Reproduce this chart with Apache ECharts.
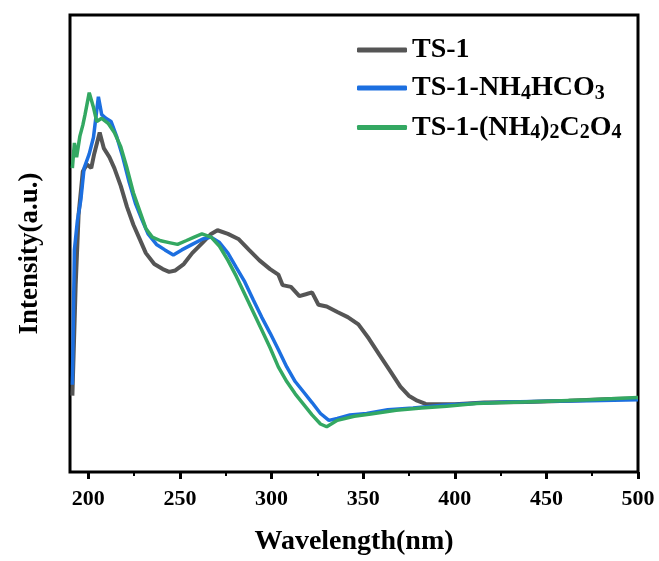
<!DOCTYPE html>
<html>
<head>
<meta charset="utf-8">
<script src="https://cdn.jsdelivr.net/npm/echarts@6/dist/echarts.min.js"></script>
<style>
  html, body { margin: 0; padding: 0; background: #fff; }
  #uvChart { width: 659px; height: 561px; }
</style>
</head>
<body>
<div id="uvChart"></div>
<script>
// wavelength (nm) / intensity (a.u.)
var ts1Wl = [191.3, 193.1, 194.7, 197.0, 199.3, 201.6, 203.2, 206.2, 208.5, 211.5, 214.2, 217.7, 221.1, 224.6, 228.0, 231.4, 236.0, 240.6, 244.1, 247.5, 252.1, 256.7, 262.4, 267.0, 270.5, 276.2, 281.9, 287.7, 293.4, 299.2, 303.7, 306.0, 310.6, 315.2, 318.7, 322.1, 325.6, 330.1, 335.9, 341.6, 347.4, 353.1, 358.8, 364.6, 370.3, 374.9, 379.5, 384.1, 391.0, 400.1, 416.2, 439.2, 462.1, 485.1, 500];
var ts1Int = [16.7, 40.9, 56.4, 65.8, 67.3, 66.5, 69.6, 74.3, 70.8, 68.9, 66.5, 62.6, 58.0, 54.1, 51.0, 47.9, 45.5, 44.4, 43.8, 44.1, 45.5, 47.9, 50.2, 52.1, 52.9, 52.1, 51.0, 48.6, 46.3, 44.4, 43.2, 40.9, 40.5, 38.5, 38.9, 39.3, 36.6, 36.2, 35.0, 33.9, 32.3, 29.2, 25.7, 22.2, 18.7, 16.7, 15.6, 14.9, 14.8, 14.8, 15.2, 15.3, 15.6, 16.0, 16.1];

var nhWl = [191.3, 192.4, 194.0, 195.9, 197.7, 200.5, 202.8, 205.5, 207.3, 209.6, 212.4, 215.4, 218.8, 222.3, 225.7, 229.2, 232.6, 237.2, 241.8, 246.4, 251.0, 256.7, 262.4, 267.0, 271.6, 276.2, 280.8, 285.4, 290.0, 294.6, 299.2, 303.7, 308.3, 312.9, 317.5, 322.1, 326.7, 331.3, 335.9, 342.8, 351.9, 363.4, 377.2, 393.3, 409.3, 427.7, 450.6, 473.6, 500];
var nhInt = [19.1, 48.6, 54.9, 59.5, 66.5, 69.6, 73.2, 82.1, 78.2, 77.4, 76.7, 73.5, 68.9, 63.4, 58.8, 55.3, 52.1, 49.8, 48.6, 47.5, 48.6, 49.8, 51.0, 51.4, 50.2, 47.9, 44.7, 41.6, 37.7, 33.9, 30.4, 26.8, 23.0, 19.8, 17.5, 15.2, 12.8, 11.3, 11.7, 12.5, 12.8, 13.6, 14.0, 14.6, 15.0, 15.3, 15.5, 15.6, 15.8];

var oxWl = [191.3, 192.4, 193.6, 195.4, 197.0, 198.2, 200.5, 202.8, 204.6, 207.3, 210.8, 214.2, 217.7, 221.1, 224.6, 228.0, 231.4, 234.9, 239.5, 244.1, 248.7, 253.3, 257.8, 262.0, 267.0, 271.6, 276.2, 280.8, 285.4, 290.0, 294.6, 299.2, 303.7, 308.3, 312.9, 317.5, 322.1, 326.7, 330.1, 335.9, 345.1, 354.2, 368.0, 381.8, 395.5, 411.6, 427.7, 450.6, 473.6, 500];
var oxInt = [66.5, 72.0, 68.9, 73.5, 75.9, 78.2, 83.0, 79.8, 76.7, 77.4, 76.3, 74.3, 71.2, 66.5, 61.1, 57.2, 53.3, 51.4, 50.6, 50.2, 49.8, 50.6, 51.4, 52.1, 51.4, 49.4, 46.3, 42.8, 38.9, 35.0, 31.1, 27.2, 23.0, 19.8, 17.1, 14.8, 12.5, 10.5, 9.9, 11.3, 12.2, 12.7, 13.5, 14.0, 14.4, 15.0, 15.2, 15.5, 15.8, 16.3];

var majorTicks = [200, 250, 300, 350, 400, 450, 500];
var minorTicks = [225, 275, 325, 375, 425, 475];

var seriesNames = ['TS-1', 'TS-1-NH4HCO3', 'TS-1-(NH4)2C2O4'];
var seriesColors = ['#555555', '#1c6fe0', '#33a862'];

function zip(xs, ys) {
  var out = [];
  for (var i = 0; i < xs.length; i++) out.push([xs[i], ys[i]]);
  return out;
}

var serif = 'Liberation Serif';
var myChart = echarts.init(document.getElementById('uvChart'));

var option = {
  animation: false,
  textStyle: { fontFamily: serif, color: '#000' },
  grid: {
    left: 70, right: 21, top: 15, bottom: 88,
    show: true, borderColor: '#000', borderWidth: 3
  },
  legend: {
    left: 352, top: 31,
    orient: 'vertical',
    itemWidth: 50, itemHeight: 5,
    itemGap: 10,
    icon: 'roundRect',
    data: seriesNames,
    formatter: function (name) {
      if (name === 'TS-1') return '{n|TS-1}';
      if (name === 'TS-1-NH4HCO3') return '{n|TS-1-NH}{s|4}{n|HCO}{s|3}';
      return '{n|TS-1-(NH}{s|4}{n|)}{s|2}{n|C}{s|2}{n|O}{s|4}';
    },
    textStyle: {
      rich: {
        n: { fontFamily: serif, fontWeight: 'bold', fontSize: 28, color: '#000', lineHeight: 31, verticalAlign: 'middle' },
        s: { fontFamily: serif, fontWeight: 'bold', fontSize: 20, color: '#000', lineHeight: 17, verticalAlign: 'bottom' }
      }
    }
  },
  xAxis: [{
    type: 'value',
    min: 190, max: 500,
    position: 'bottom',
    name: 'Wavelength(nm)',
    nameLocation: 'middle',
    nameGap: 56,
    nameTextStyle: { fontFamily: serif, fontWeight: 'bold', fontSize: 28, color: '#000' },
    axisLine: { show: false },
    axisTick: { show: true, inside: false, length: 7, customValues: majorTicks, lineStyle: { color: '#000', width: 3 } },
    axisLabel: { customValues: majorTicks, margin: 16, fontFamily: serif, fontWeight: 'bold', fontSize: 22, color: '#000' },
    splitLine: { show: false }
  }, {
    type: 'value',
    min: 190, max: 500,
    position: 'bottom',
    axisLine: { show: false },
    axisTick: { show: true, inside: false, length: 4, customValues: minorTicks, lineStyle: { color: '#000', width: 2 } },
    axisLabel: { show: false },
    splitLine: { show: false }
  }],
  yAxis: {
    type: 'value',
    min: 0, max: 100,
    name: 'Intensity(a.u.)',
    nameLocation: 'middle',
    nameGap: 26,
    nameTextStyle: { fontFamily: serif, fontWeight: 'bold', fontSize: 27, color: '#000', padding: [0, 20, 0, 0] },
    axisLine: { show: false },
    axisTick: { show: false },
    axisLabel: { show: false },
    splitLine: { show: false }
  },
  series: [{
    name: seriesNames[0], type: 'line', xAxisIndex: 0,
    data: zip(ts1Wl, ts1Int),
    showSymbol: false,
    color: seriesColors[0],
    lineStyle: { width: 4, color: seriesColors[0] }
  }, {
    name: seriesNames[1], type: 'line', xAxisIndex: 0,
    data: zip(nhWl, nhInt),
    showSymbol: false,
    color: seriesColors[1],
    lineStyle: { width: 3.5, color: seriesColors[1] }
  }, {
    name: seriesNames[2], type: 'line', xAxisIndex: 0,
    data: zip(oxWl, oxInt),
    showSymbol: false,
    color: seriesColors[2],
    lineStyle: { width: 3.5, color: seriesColors[2] }
  }]
};
myChart.setOption(option);
</script>
</body>
</html>
